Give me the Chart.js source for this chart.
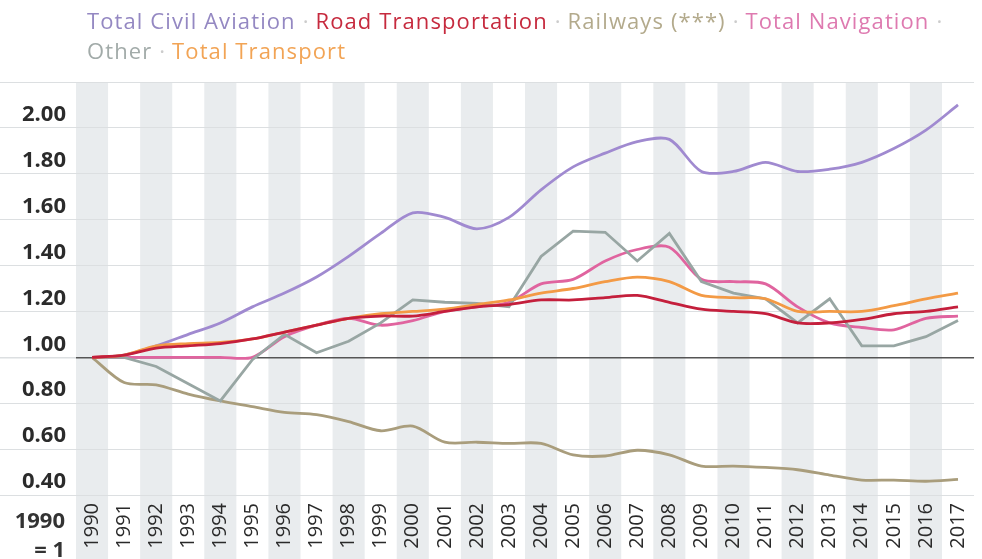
<!DOCTYPE html>
<html>
<head>
<meta charset="utf-8">
<script src="https://cdn.jsdelivr.net/npm/chart.js@4"></script>
<style>
  html, body { margin: 0; padding: 0; background: #fff; overflow: hidden; }
  #wrap { position: relative; width: 990px; height: 559px; }
  #legend {
    position: absolute; left: 87px; top: 5px; width: 895px;
    font-family: "Open Sans", sans-serif; font-size: 22px; line-height: 30px;
    letter-spacing: 1.1px; white-space: nowrap; z-index: 2;
  }
  #legend .sep { color: #cccccc; margin: 0 7px; letter-spacing: 0; }
  #base {
    position: absolute; left: 0; width: 65px; top: 505px;
    text-align: right; font-family: "Open Sans", sans-serif; font-weight: 700;
    font-size: 22px; line-height: 29px; color: #333;
  }
</style>
</head>
<body>
<div id="wrap">
  <div id="legend">
    <span style="color:#9488c2">Total Civil Aviation</span><span class="sep">·</span><span style="color:#c62a3e">Road Transportation</span><span class="sep">·</span><span style="color:#b3aa8c">Railways (***)</span><span class="sep">·</span><span style="color:#de7ab0">Total Navigation</span><span class="sep">·</span><br>
    <span style="color:#a2aba9">Other</span><span class="sep">·</span><span style="color:#f2a455">Total Transport</span>
  </div>
  <canvas id="chart" width="990" height="559"></canvas>
  <div id="base">1990<br>= 1</div>
</div>
<script>
const years = ['1990', '1991', '1992', '1993', '1994', '1995', '1996', '1997', '1998', '1999',
    '2000', '2001', '2002', '2003', '2004', '2005', '2006', '2007', '2008', '2009',
    '2010', '2011', '2012', '2013', '2014', '2015', '2016', '2017'];

const civilAviation = [1.00, 1.01, 1.05, 1.10, 1.15, 1.22, 1.28, 1.35, 1.44, 1.54,
    1.63, 1.61, 1.56, 1.61, 1.73, 1.83, 1.89, 1.94, 1.95, 1.81,
    1.81, 1.85, 1.81, 1.82, 1.85, 1.91, 1.99, 2.10];
const roadTransport = [1.00, 1.01, 1.04, 1.05, 1.06, 1.08, 1.11, 1.14, 1.17, 1.18,
    1.18, 1.20, 1.22, 1.23, 1.25, 1.25, 1.26, 1.27, 1.24, 1.21,
    1.20, 1.19, 1.15, 1.15, 1.165, 1.19, 1.20, 1.22];
const railways = [1.00, 0.89, 0.88, 0.84, 0.81, 0.785, 0.76, 0.75, 0.72, 0.68,
    0.70, 0.63, 0.63, 0.625, 0.625, 0.575, 0.57, 0.595, 0.575, 0.526,
    0.526, 0.52, 0.51, 0.487, 0.465, 0.465, 0.46, 0.468];
const navigation = [1.00, 1.00, 1.00, 1.00, 1.00, 1.00, 1.09, 1.14, 1.17, 1.14,
    1.16, 1.20, 1.22, 1.24, 1.32, 1.34, 1.42, 1.47, 1.48, 1.34,
    1.33, 1.32, 1.22, 1.15, 1.13, 1.12, 1.17, 1.18];
const other = [1.00, 1.00, 0.96, 0.885, 0.81, 0.99, 1.10, 1.02, 1.07, 1.15,
    1.25, 1.24, 1.235, 1.22, 1.44, 1.55, 1.545, 1.42, 1.54, 1.33,
    1.28, 1.255, 1.15, 1.255, 1.05, 1.05, 1.09, 1.16];
const totalTransport = [1.00, 1.01, 1.05, 1.06, 1.065, 1.08, 1.11, 1.14, 1.17, 1.19,
    1.20, 1.21, 1.23, 1.25, 1.28, 1.30, 1.33, 1.35, 1.33, 1.27,
    1.26, 1.255, 1.20, 1.20, 1.20, 1.225, 1.255, 1.28];

const yTicks = [0.4, 0.6, 0.8, 1.0, 1.2, 1.4, 1.6, 1.8, 2.0, 2.2];

// grey bands behind every other year, running down through the labels
const bandPlugin = {
    id: 'bands',
    beforeDraw(chart) {
        const { ctx, chartArea, scales } = chart;
        const x = scales.x;
        const w = x.getPixelForValue(1) - x.getPixelForValue(0);
        ctx.save();
        ctx.fillStyle = '#e9ecee';
        for (let i = 0; i < years.length; i += 2) {
            const cx = x.getPixelForValue(i);
            ctx.fillRect(cx - w / 2, chartArea.top, w, chart.height - chartArea.top);
        }
        ctx.restore();
    }
};

function line(label, data, color, tension) {
    return {
        label: label,
        data: data,
        borderColor: color,
        backgroundColor: color,
        borderWidth: 2.8,
        pointRadius: 0,
        tension: tension,
        fill: false
    };
}

new Chart(document.getElementById('chart'), {
    type: 'line',
    data: {
        labels: years,
        datasets: [
            line('Road Transportation', roadTransport, '#c41f3c', 0.3),
            line('Total Transport', totalTransport, '#f39a45', 0.3),
            line('Other', other, '#98a6a3', 0),
            line('Total Navigation', navigation, '#e0649f', 0.3),
            line('Railways (***)', railways, '#a99d7c', 0.3),
            line('Total Civil Aviation', civilAviation, '#a08ad0', 0.3)
        ]
    },
    options: {
        responsive: false,
        animation: false,
        layout: { padding: { top: 82, left: 0, right: 0, bottom: 0 } },
        plugins: { legend: { display: false }, tooltip: { enabled: false } },
        scales: {
            x: {
                offset: true,
                grid: { display: false, drawTicks: false },
                border: { display: false },
                ticks: {
                    autoSkip: false,
                    maxRotation: 90,
                    minRotation: 90,
                    padding: 8,
                    color: '#2a2a2a',
                    font: { family: 'Open Sans', size: 20 }
                },
                afterFit(scale) { scale.height = 64; }
            },
            y: {
                min: 0.4,
                max: 2.2,
                afterBuildTicks(scale) { scale.ticks = yTicks.map(v => ({ value: v })); },
                grid: {
                    color: ctx => ctx.tick && Math.abs(ctx.tick.value - 1) < 1e-6 ? '#555' : '#dcdfe1',
                    lineWidth: ctx => ctx.tick && Math.abs(ctx.tick.value - 1) < 1e-6 ? 1.6 : 1,
                    drawTicks: true,
                    tickLength: 76,
                    tickColor: '#dcdfe1'
                },
                border: { display: false },
                ticks: {
                    padding: -66,
                    labelOffset: -13,
                    color: '#2b2b2b',
                    font: { family: 'Open Sans', size: 22, weight: 'bold' },
                    callback: v => (v > 2.1 ? '' : v.toFixed(2))
                },
                afterFit(scale) { scale.width = 76; }
            }
        }
    },
    plugins: [bandPlugin]
});
</script>
</body>
</html>
